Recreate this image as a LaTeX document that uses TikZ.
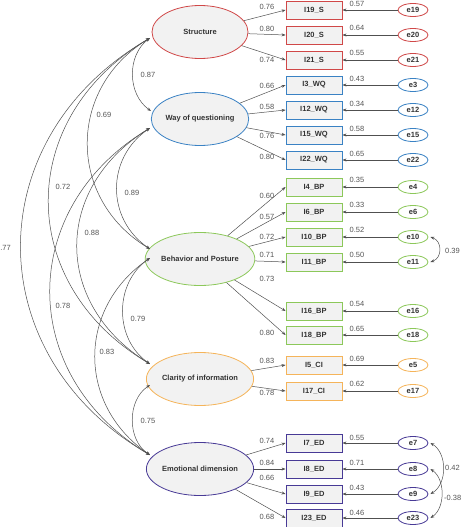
\documentclass[tikz,border=0pt]{standalone}
\usepackage{fontspec}
\setmainfont{Liberation Sans}
\usetikzlibrary{arrows.meta,shapes.geometric}
\definecolor{cS}{RGB}{208,72,72}
\definecolor{cW}{RGB}{58,130,196}
\definecolor{cB}{RGB}{140,200,90}
\definecolor{cC}{RGB}{245,180,90}
\definecolor{cE}{RGB}{72,58,150}
\definecolor{fillg}{RGB}{242,242,242}
\definecolor{txtg}{RGB}{85,85,85}
\definecolor{lineg}{RGB}{80,80,80}
\tikzset{
  latent/.style={ellipse,draw=#1,line width=0.8pt,fill=fillg,minimum width=96pt,minimum height=53pt,inner sep=0pt,font=\fontsize{7.5}{9}\selectfont\bfseries,text=black!80},
  obs/.style={rectangle,draw=#1,line width=0.9pt,fill=fillg,minimum width=56pt,minimum height=18pt,inner sep=0pt,font=\fontsize{7.5}{9}\selectfont\bfseries,text=black!80},
  err/.style={ellipse,draw=#1,line width=0.8pt,fill=white,minimum width=30pt,minimum height=13pt,inner sep=0pt,font=\fontsize{7.5}{9}\selectfont\bfseries,text=black!80},
  ld/.style={-{Stealth[length=4pt,width=3pt]},draw=lineg,line width=0.5pt},
  cov/.style={{Stealth[length=4pt,width=3pt]}-{Stealth[length=4pt,width=3pt]},draw=lineg,line width=0.5pt},
  num/.style={font=\fontsize{7.5}{9}\selectfont,text=txtg,inner sep=0pt}
}
\begin{document}
\begin{tikzpicture}[x=1pt,y=-1pt]
\useasboundingbox (0,0) rectangle (461,527);
% latent
\node[latent=cS] (st) at (200,32) {Structure};
\node[latent=cW] (wq) at (200,119) {Way of questioning};
\node[latent=cB] (bp) at (200,259) {Behavior and Posture};
\node[latent=cC] (ci) at (200,379) {Clarity of information};
\node[latent=cE] (ed) at (200,469) {Emotional dimension};
% observed
\node[obs=cS] (i19) at (314,10) {I19\_S};
\node[obs=cS] (i20) at (314,35) {I20\_S};
\node[obs=cS] (i21) at (314,60) {I21\_S};
\node[obs=cW] (i3) at (314,85) {I3\_WQ};
\node[obs=cW] (i12) at (314,110) {I12\_WQ};
\node[obs=cW] (i15) at (314,135) {I15\_WQ};
\node[obs=cW] (i22) at (314,160) {I22\_WQ};
\node[obs=cB] (i4) at (314,187) {I4\_BP};
\node[obs=cB] (i6) at (314,212) {I6\_BP};
\node[obs=cB] (i10) at (314,237) {I10\_BP};
\node[obs=cB] (i11) at (314,262) {I11\_BP};
\node[obs=cB] (i16) at (314,311) {I16\_BP};
\node[obs=cB] (i18) at (314,335) {I18\_BP};
\node[obs=cC] (i5) at (314,365) {I5\_CI};
\node[obs=cC] (i17) at (314,391) {I17\_CI};
\node[obs=cE] (i7) at (314,443) {I7\_ED};
\node[obs=cE] (i8) at (314,469) {I8\_ED};
\node[obs=cE] (i9) at (314,494) {I9\_ED};
\node[obs=cE] (i23) at (314,518) {I23\_ED};
% errors
\node[err=cS] (e19) at (413,10) {e19};
\node[err=cS] (e20) at (413,35) {e20};
\node[err=cS] (e21) at (413,60) {e21};
\node[err=cW] (e3) at (413,85) {e3};
\node[err=cW] (e12) at (413,110) {e12};
\node[err=cW] (e15) at (413,135) {e15};
\node[err=cW] (e22) at (413,160) {e22};
\node[err=cB] (e4) at (413,187) {e4};
\node[err=cB] (e6) at (413,212) {e6};
\node[err=cB] (e10) at (413,237) {e10};
\node[err=cB] (e11) at (413,262) {e11};
\node[err=cB] (e16) at (413,311) {e16};
\node[err=cB] (e18) at (413,335) {e18};
\node[err=cC] (e5) at (413,365) {e5};
\node[err=cC] (e17) at (413,391) {e17};
\node[err=cE] (e7) at (413,443) {e7};
\node[err=cE] (e8) at (413,469) {e8};
\node[err=cE] (e9) at (413,494) {e9};
\node[err=cE] (e23) at (413,518) {e23};
% loadings
\foreach \l/\o in {st/i19,st/i20,st/i21,wq/i3,wq/i12,wq/i15,wq/i22,bp/i4,bp/i6,bp/i10,bp/i11,bp/i16,bp/i18,ci/i5,ci/i17,ed/i7,ed/i8,ed/i9,ed/i23}
  \draw[ld] (\l) -- (\o.west);
\foreach \e/\o in {e19/i19,e20/i20,e21/i21,e3/i3,e12/i12,e15/i15,e22/i22,e4/i4,e6/i6,e10/i10,e11/i11,e16/i16,e18/i18,e5/i5,e17/i17,e7/i7,e8/i8,e9/i9,e23/i23}
  \draw[ld] (\e) -- (\o.east);
% loading labels
\node[num] (l19) at (267,7) {0.76};
\node[num] (l20) at (267,29) {0.80};
\node[num] (l21) at (267,60) {0.74};
\node[num] (l3) at (267,86) {0.66};
\node[num] (l12) at (267,107) {0.58};
\node[num] (l15) at (267,136) {0.76};
\node[num] (l22) at (267,157) {0.80};
\node[num] (l4) at (267,196) {0.60};
\node[num] (l6) at (267,217) {0.57};
\node[num] (l10) at (267,237) {0.72};
\node[num] (l11) at (267,255) {0.71};
\node[num] (l16) at (267,279) {0.73};
\node[num] (l18) at (267,333) {0.80};
\node[num] (l5) at (267,361) {0.83};
\node[num] (l17) at (267,393) {0.78};
\node[num] (l7) at (267,441) {0.74};
\node[num] (l8) at (267,463) {0.84};
\node[num] (l9) at (267,478) {0.66};
\node[num] (l23) at (267,517) {0.68};
% error labels
\node[num] (r19) at (357,4) {0.57};
\node[num] (r20) at (357,28) {0.64};
\node[num] (r21) at (357,53) {0.55};
\node[num] (r3) at (357,79) {0.43};
\node[num] (r12) at (357,104) {0.34};
\node[num] (r15) at (357,129) {0.58};
\node[num] (r22) at (357,154) {0.65};
\node[num] (r4) at (357,180) {0.35};
\node[num] (r6) at (357,205) {0.33};
\node[num] (r10) at (357,230) {0.52};
\node[num] (r11) at (357,255) {0.50};
\node[num] (r16) at (357,304) {0.54};
\node[num] (r18) at (357,329) {0.65};
\node[num] (r5) at (357,359) {0.69};
\node[num] (r17) at (357,384) {0.62};
\node[num] (r7) at (357,438) {0.55};
\node[num] (r8) at (357,463) {0.71};
\node[num] (r9) at (357,488) {0.43};
\node[num] (r23) at (357,513) {0.46};
% covariance anchor points
\coordinate (So) at (150,38);
\coordinate (Wi) at (151,111);
\coordinate (Wo) at (150,128);
\coordinate (Bi) at (150,249);
\coordinate (Bo) at (150,258);
\coordinate (Ci) at (150,364);
\coordinate (Co) at (150,385);
\coordinate (Ei) at (150,455);
\draw[cov] (So) .. controls (127,55) and (127,94) .. (Wi);
\draw[cov] (So) .. controls (67,88) and (67,199) .. (Bi);
\draw[cov] (So) .. controls (15,118) and (15,284) .. (Ci);
\draw[cov] (So) .. controls (-22,138) and (-22,355) .. (Ei);
\draw[cov] (Wo) .. controls (106,158) and (106,219) .. (Bi);
\draw[cov] (Wo) .. controls (53,188) and (53,304) .. (Ci);
\draw[cov] (Wo) .. controls (17,208) and (17,375) .. (Ei);
\draw[cov] (Bo) .. controls (114,283) and (114,339) .. (Ci);
\draw[cov] (Bo) .. controls (77,308) and (77,405) .. (Ei);
\draw[cov] (Co) .. controls (127,400) and (127,440) .. (Ei);
% covariance labels
\node[num] (c1) at (148,75) {0.87};
\node[num] (c2) at (104,115) {0.69};
\node[num] (c3) at (63,187) {0.72};
\node[num,anchor=east] (c4) at (11,248) {0.77};
\node[num] (c5) at (132,193) {0.89};
\node[num] (c6) at (92,233) {0.88};
\node[num] (c7) at (63,306) {0.78};
\node[num] (c8) at (138,319) {0.79};
\node[num] (c9) at (107,352) {0.83};
\node[num] (c10) at (148,421) {0.75};
% error covariances
\draw[cov] ([xshift=2pt]e10.east) .. controls +(12,4) and +(12,-4) .. ([xshift=2pt]e11.east);
\draw[cov] ([xshift=2pt]e7.east) .. controls +(17,10) and +(17,-10) .. ([xshift=2pt]e9.east);
\draw[cov] ([xshift=2pt]e8.east) .. controls +(15,10) and +(15,-10) .. ([xshift=2pt]e23.east);
\node[num,anchor=west] (c11) at (445,251) {0.39};
\node[num,anchor=west] (c12) at (445,468) {0.42};
\node[num,anchor=west] (c13) at (444,498) {-0.38};
\end{tikzpicture}
\end{document}
